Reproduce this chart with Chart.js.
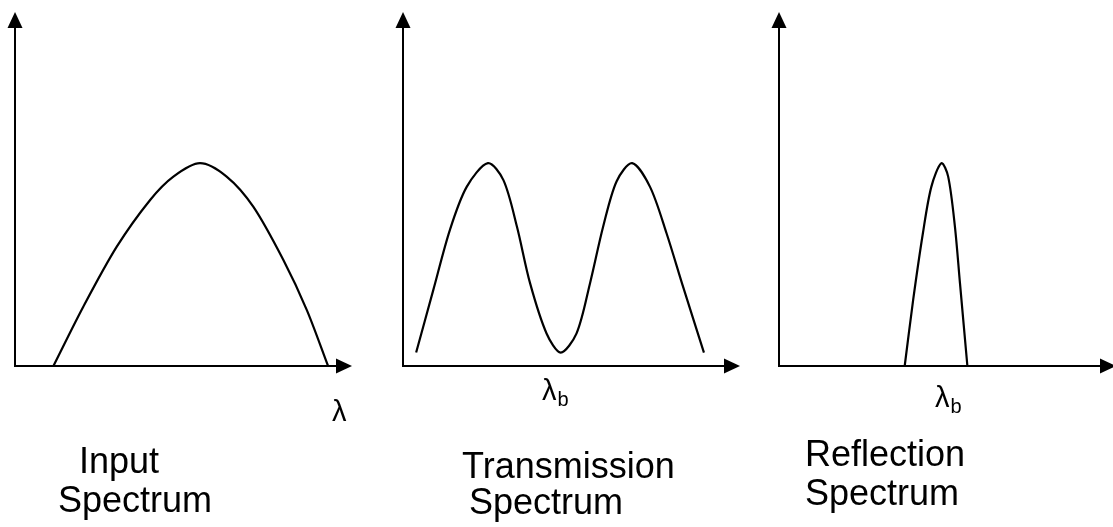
<!DOCTYPE html>
<html>
<head>
<meta charset="utf-8">
<title>Input, transmission and reflection spectra</title>
<script src="https://cdn.jsdelivr.net/npm/chart.js@4/dist/chart.umd.min.js"></script>
<style>
  html, body { margin: 0; padding: 0; background: #fff; overflow: hidden; }
  #wrap { position: relative; width: 1113px; height: 527px; overflow: hidden; }
  canvas { position: absolute; top: 0; }
</style>
</head>
<body>
<div id="wrap">
  <canvas id="chart-input" width="380" height="527" style="left:0px"></canvas>
  <canvas id="chart-trans" width="360" height="527" style="left:390px"></canvas>
  <canvas id="chart-refl" width="360" height="527" style="left:760px"></canvas>
</div>
<script>
// Spectra, wavelength (0-100 along the axis) vs. intensity (0-100 up the axis)
const inputX = [11.4, 20.3, 30.2, 40.1, 47.0, 54.9, 62.8, 70.7, 79.6, 86.6, 92.9];
const inputY = [0, 16.8, 33.7, 46.9, 53.5, 57.3, 53.5, 45.0, 30.0, 15.8, 0];

const transX = [3.9, 9.0, 13.9, 18.9, 25.2, 29.8, 33.8, 37.7, 42.6, 46.8, 51.5, 55.5, 59.4, 63.4, 68.0, 73.3, 78.2, 83.1, 89.3];
const transY = [3.8, 21.5, 38.4, 50.6, 57.3, 52.5, 39.4, 23.4, 9.2, 3.8, 9.2, 23.4, 39.4, 52.2, 57.3, 50.6, 37.5, 22.4, 3.8];

const reflX = [37.3, 39.8, 42.7, 45.2, 48.2, 50.2, 52.2, 53.7, 55.9];
const reflY = [0, 18.6, 37.5, 50.6, 57.3, 53.5, 39.4, 23.4, 0];

const captions = {
  input: ['Input', 'Spectrum'],
  trans: ['Transmission', 'Spectrum'],
  refl: ['Reflection', 'Spectrum'],
};

const FONT = '"Liberation Sans", Arial, sans-serif';

function toPoints(xs, ys) {
  return xs.map((x, i) => ({ x, y: ys[i] }));
}

// axis lines with filled arrowheads at the top and right ends
const axesArrows = {
  id: 'axesArrows',
  beforeDatasetsDraw(chart) {
    const { ctx } = chart;
    const x0 = chart.scales.x.getPixelForValue(0);
    const x1 = chart.scales.x.getPixelForValue(100);
    const y0 = chart.scales.y.getPixelForValue(0);
    const y1 = chart.scales.y.getPixelForValue(100);
    const len = 16, half = 7.5;
    ctx.save();
    ctx.strokeStyle = '#000';
    ctx.fillStyle = '#000';
    ctx.lineWidth = 2;
    ctx.beginPath();
    ctx.moveTo(x0, y1 + len - 2);
    ctx.lineTo(x0, y0);
    ctx.lineTo(x1 - len + 2, y0);
    ctx.stroke();
    ctx.beginPath();
    ctx.moveTo(x0, y1);
    ctx.lineTo(x0 - half, y1 + len);
    ctx.lineTo(x0 + half, y1 + len);
    ctx.closePath();
    ctx.fill();
    ctx.beginPath();
    ctx.moveTo(x1, y0);
    ctx.lineTo(x1 - len, y0 - half);
    ctx.lineTo(x1 - len, y0 + half);
    ctx.closePath();
    ctx.fill();
    ctx.restore();
  },
};

// wavelength symbol and two-line caption under each panel
const panelText = {
  id: 'panelText',
  afterDraw(chart, args, opts) {
    const { ctx } = chart;
    ctx.save();
    ctx.fillStyle = '#000';
    ctx.textBaseline = 'alphabetic';
    ctx.textAlign = 'left';
    const lam = opts.lambda;
    ctx.font = '29px ' + FONT;
    ctx.fillText('λ', lam.x, lam.y);
    if (lam.sub) {
      const w = ctx.measureText('λ').width;
      ctx.font = '20px ' + FONT;
      ctx.fillText(lam.sub, lam.x + w + 1, lam.y + 6);
    }
    ctx.font = '36px ' + FONT;
    opts.lines.forEach((l) => ctx.fillText(l.text, l.x, l.y));
    ctx.restore();
  },
};

function makePanel(id, xs, ys, pad, lambda, lines) {
  return new Chart(document.getElementById(id), {
    type: 'line',
    data: {
      datasets: [
        {
          data: toPoints(xs, ys),
          borderColor: '#000',
          borderWidth: 2.2,
          pointRadius: 0,
          fill: false,
          tension: 0.3,
          clip: false,
        },
      ],
    },
    options: {
      responsive: false,
      animation: false,
      events: [],
      layout: { padding: pad },
      scales: {
        x: { type: 'linear', min: 0, max: 100, display: false },
        y: { type: 'linear', min: 0, max: 100, display: false },
      },
      plugins: {
        legend: { display: false },
        tooltip: { enabled: false },
        panelText: { lambda, lines },
      },
    },
    plugins: [axesArrows, panelText],
  });
}

makePanel('chart-input', inputX, inputY,
  { left: 15, right: 28, top: 12, bottom: 161 },
  { x: 332, y: 421 },
  [{ text: captions.input[0], x: 79, y: 473 }, { text: captions.input[1], x: 58, y: 512 }]);

makePanel('chart-trans', transX, transY,
  { left: 13, right: 10, top: 12, bottom: 161 },
  { x: 152, y: 400, sub: 'b' },
  [{ text: captions.trans[0], x: 72, y: 478 }, { text: captions.trans[1], x: 79, y: 514 }]);

makePanel('chart-refl', reflX, reflY,
  { left: 19, right: 4, top: 12, bottom: 161 },
  { x: 175, y: 407, sub: 'b' },
  [{ text: captions.refl[0], x: 45, y: 466 }, { text: captions.refl[1], x: 45, y: 505 }]);
</script>
</body>
</html>
